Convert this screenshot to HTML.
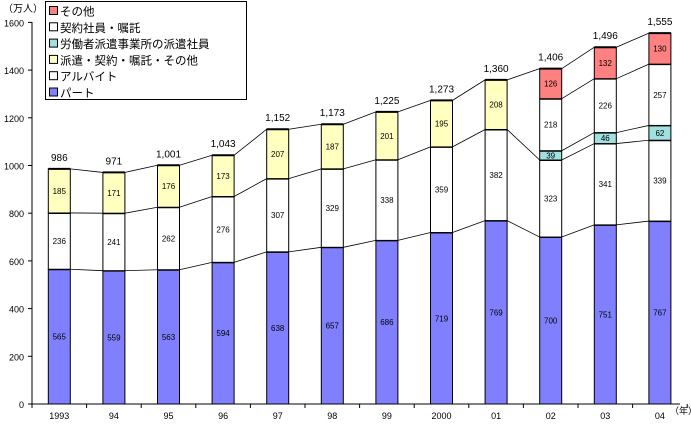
<!DOCTYPE html>
<html><head><meta charset="utf-8"><style>
body{margin:0;background:#fff}
svg{display:block;font-family:"Liberation Sans","Noto Sans CJK JP",sans-serif}
</style></head><body>
<svg id="c" width="691" height="425"></svg>
<script>
const years=["1993","94","95","96","97","98","99","2000","01","02","03","04"];
const part=[565,559,563,594,638,657,686,719,769,700,751,767];
const arbeit=[236,241,262,276,307,329,338,359,382,323,341,339];
const haken=[185,171,176,173,207,187,201,195,208,null,null,null];
const dispatch=[null,null,null,null,null,null,null,null,null,39,46,62];
const contract=[null,null,null,null,null,null,null,null,null,218,226,257];
const other=[null,null,null,null,null,null,null,null,null,126,132,130];
const totals=["986","971","1,001","1,043","1,152","1,173","1,225","1,273","1,360","1,406","1,496","1,555"];
const yTicks=[0,200,400,600,800,1000,1200,1400,1600];
const yTickLabels=["0","200","400","600","800","1000","1200","1400","1600"];
const series=[
 {name:"part",vals:part,fill:"#8080ff"},
 {name:"arbeit",vals:arbeit,fill:"#ffffff"},
 {name:"haken",vals:haken,fill:"#ffffc0"},
 {name:"dispatch",vals:dispatch,fill:"#a0e0e0"},
 {name:"contract",vals:contract,fill:"#ffffff"},
 {name:"other",vals:other,fill:"#ff8080"}];
const NS="http://www.w3.org/2000/svg";
const svg=document.getElementById('c');
function el(t,a,p){const e=document.createElementNS(NS,t);for(const k in a)e.setAttribute(k,a[k]);(p||svg).appendChild(e);return e;}
const x0=32,step=54.6,bw=22;
const yS=v=>404-v*0.2385;
const xC=i=>x0+step*(i+0.5);
// axes
let ax=el('line',{x1:x0,y1:22,x2:x0,y2:404,stroke:'#000'});

let bx=el('line',{x1:x0,y1:404,x2:680,y2:404,stroke:'#000'});

yTicks.forEach((v,i)=>{
 el('line',{x1:x0-4,y1:yS(v),x2:x0,y2:yS(v),stroke:'#000'});
 const t=el('text',{x:24,y:yS(v)+4,'font-size':9,'text-anchor':'end'});t.textContent=yTickLabels[i];
 
});
for(let i=0;i<=years.length;i++)el('line',{x1:x0+step*i,y1:404,x2:x0+step*i,y2:408,stroke:'#000'});
years.forEach((y,i)=>{const t=el('text',{x:xC(i),y:419,'font-size':9,'text-anchor':'middle'});t.textContent=y;
 });
let u=el('text',{x:3,y:12,'font-size':10});u.textContent='（万人）';
let u2=el('text',{x:670,y:414,'font-size':9});u2.textContent='（年）';
// cumulative boundaries
const bounds=years.map((_,i)=>{let c=0,b=[];series.forEach(s=>{if(s.vals[i]!=null){c+=s.vals[i];b.push(c);}});return b;});
// series lines
for(let i=0;i<years.length-1;i++){
 const a=bounds[i],b=bounds[i+1];
 if(a.length===b.length){a.forEach((v,k)=>el('line',{x1:xC(i)+bw/2,y1:yS(v),x2:xC(i+1)-bw/2,y2:yS(b[k]),stroke:'#000','stroke-width':0.8}));}
 else{el('line',{x1:xC(i)+bw/2,y1:yS(a[0]),x2:xC(i+1)-bw/2,y2:yS(b[0]),stroke:'#000','stroke-width':0.8});
  el('line',{x1:xC(i)+bw/2,y1:yS(a[1]),x2:xC(i+1)-bw/2,y2:yS(b[1]),stroke:'#000','stroke-width':0.8});
  el('line',{x1:xC(i)+bw/2,y1:yS(a[a.length-1]),x2:xC(i+1)-bw/2,y2:yS(b[b.length-1]),stroke:'#000','stroke-width':0.8});}
}
// bars
years.forEach((y,i)=>{let c=0;
 series.forEach(s=>{const v=s.vals[i];if(v==null)return;
  const r=el('rect',{x:xC(i)-bw/2,y:yS(c+v),width:bw,height:yS(c)-yS(c+v),fill:s.fill,stroke:'#000','stroke-width':1});
  
  el('line',{x1:xC(i)-bw/2,y1:yS(c+v),x2:xC(i)+bw/2,y2:yS(c+v),stroke:'#000','stroke-width':2});
  const t=el('text',{x:xC(i),y:(yS(c)+yS(c+v))/2+3,'font-size':8,'text-anchor':'middle'});t.textContent=v;
  
  c+=v;});
 const t=el('text',{x:xC(i),y:yS(c)-8,'font-size':10,'text-anchor':'middle'});t.textContent=totals[i];
 
});
// legend
const lg=el('g',{});
el('rect',{x:45.5,y:1.5,width:201,height:98,fill:'#fff',stroke:'#000'},lg);
const legNames=["その他","契約社員・嘱託","労働者派遣事業所の派遣社員","派遣・契約・嘱託・その他","アルバイト","パート"];
const legFills=["#ff8080","#ffffff","#a0e0e0","#ffffc0","#ffffff","#8080ff"];
legNames.forEach((n,k)=>{const y=11+k*16.3;
 const g=el('g',{},lg);
 el('rect',{x:49.5,y:y-4.5,width:8,height:8,fill:legFills[k],stroke:'#000'},g);
 const t=el('text',{x:60,y:y+4.5,'font-size':11.5},g);t.textContent=n;});
</script>
</body></html>
